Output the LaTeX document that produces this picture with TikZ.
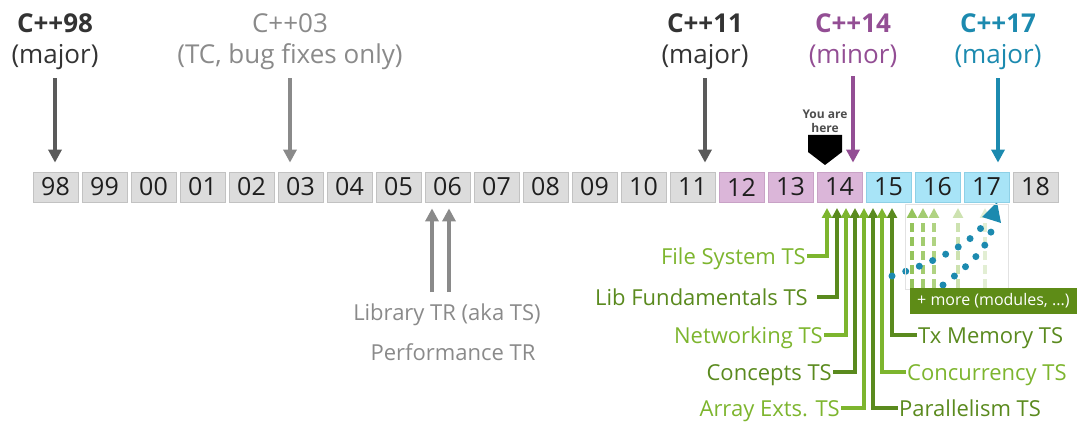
\documentclass[tikz,border=0pt]{standalone}
\usepackage{fontspec}
\setmainfont{Open Sans}
\usepackage{tikz}
\usetikzlibrary{arrows.meta}
\definecolor{boxgrey}{HTML}{DCDCDC}
\definecolor{boxgreyline}{HTML}{C2C2C2}
\definecolor{boxpink}{HTML}{DBB6D9}
\definecolor{boxpinkline}{HTML}{C8A2C6}
\definecolor{boxblue}{HTML}{A8E4F7}
\definecolor{boxblueline}{HTML}{8ED0E6}
\definecolor{yeartext}{HTML}{1E1E1E}
\definecolor{reldark}{HTML}{333333}
\definecolor{arrowdark}{HTML}{5A5A5A}
\definecolor{tcgrey}{HTML}{8A8A8A}
\definecolor{minorpurple}{HTML}{934E94}
\definecolor{majorteal}{HTML}{1C8AAF}
\definecolor{grnlight}{HTML}{7DB52E}
\definecolor{grndark}{HTML}{5A8A1E}
\definecolor{grnbox}{HTML}{5E8C17}
\definecolor{fut1}{HTML}{95C45C}
\definecolor{fut2}{HTML}{A3CC70}
\definecolor{fut3}{HTML}{B0D382}
\definecolor{fut4}{HTML}{CDE2B0}
\definecolor{fut5}{HTML}{E2EED3}
\definecolor{frameline}{HTML}{E2E2E2}
\definecolor{herecol}{HTML}{4D4D4D}
\newcommand{\relfont}{\fontsize{26}{30}\selectfont}
\newcommand{\yearfont}{\fontsize{25}{28}\selectfont}
\newcommand{\tsfont}{\fontsize{22}{26}\selectfont}
\newcommand{\morefont}{\fontsize{16}{19}\selectfont}
\newcommand{\herefont}{\fontsize{12}{14}\selectfont}
\pgfdeclarelayer{edgelayer}
\pgfdeclarelayer{nodelayer}
\pgfsetlayers{edgelayer,nodelayer,main}
\tikzstyle{year}=[rectangle,fill=boxgrey,draw=boxgreyline,line width=0.8,minimum width=45,minimum height=30,inner sep=0pt,font=\yearfont,text=yeartext]
\tikzstyle{minoryear}=[year,fill=boxpink,draw=boxpinkline]
\tikzstyle{majoryear}=[year,fill=boxblue,draw=boxblueline]
\tikzstyle{rel}=[anchor=base,font=\relfont\bfseries,inner sep=2pt]
\tikzstyle{relnote}=[anchor=base,font=\relfont,inner sep=2pt]
\tikzstyle{relarrow}=[->,>={Triangle[length=13pt,width=13pt]},line width=4.5,shorten <=6pt,shorten >=9pt]
\tikzstyle{trarrow}=[->,>={Triangle[length=13pt,width=13pt]},line width=4.5,draw=tcgrey,shorten >=6pt]
\tikzstyle{trnote}=[anchor=base,font=\tsfont,text=tcgrey,inner sep=1pt]
\tikzstyle{tslabel}=[font=\tsfont,text height=17pt,text depth=1pt,inner sep=1pt]
\tikzstyle{tsline}=[->,>={Triangle[length=10pt,width=10pt]},line width=3.5]
\tikzstyle{futarrow}=[->,>={Triangle[length=10pt,width=10pt]},line width=3.5,dash pattern=on 9pt off 5pt]
\tikzstyle{tealdots}=[draw=majorteal,line width=7,line cap=round,dash pattern=on 0pt off 14.5pt]
\tikzstyle{frame}=[rectangle,draw=frameline,line width=1,minimum width=103,minimum height=84,inner sep=0pt]
\tikzstyle{morebox}=[rectangle,fill=grnbox,text=white,font=\morefont,inner xsep=7pt,minimum height=26,anchor=west]
\tikzstyle{herenote}=[align=center,font=\herefont\bfseries,text=herecol,inner sep=0pt]

\begin{document}
\begin{tikzpicture}[x=1pt,y=-1pt]
	\useasboundingbox (0,0) rectangle (1080,425);
	\begin{pgfonlayer}{nodelayer}
		% years
		\node [style=year] (y98) at (55.5,187) {98};
		\node [style=year] (y99) at (104.5,187) {99};
		\node [style=year] (y00) at (153.5,187) {00};
		\node [style=year] (y01) at (202.5,187) {01};
		\node [style=year] (y02) at (251.5,187) {02};
		\node [style=year] (y03) at (300.5,187) {03};
		\node [style=year] (y04) at (349.5,187) {04};
		\node [style=year] (y05) at (398.5,187) {05};
		\node [style=year] (y06) at (447.5,187) {06};
		\node [style=year] (y07) at (496.5,187) {07};
		\node [style=year] (y08) at (545.5,187) {08};
		\node [style=year] (y09) at (594.5,187) {09};
		\node [style=year] (y10) at (643.5,187) {10};
		\node [style=year] (y11) at (692.5,187) {11};
		\node [style=minoryear] (y12) at (741.5,187) {12};
		\node [style=minoryear] (y13) at (790.5,187) {13};
		\node [style=minoryear] (y14) at (839.5,187) {14};
		\node [style=majoryear] (y15) at (888.5,187) {15};
		\node [style=majoryear] (y16) at (937.5,187) {16};
		\node [style=majoryear] (y17) at (986.5,187) {17};
		\node [style=year] (y18) at (1035.5,187) {18};

		% releases
		\node [style=rel, text=reldark] (c98) at (55,33) {C++98};
		\node [style=relnote, text=reldark] (c98n) at (55,64) {(major)};
		\node [style=relnote, text=tcgrey] (c03) at (290,33) {C++03};
		\node [style=relnote, text=tcgrey] (c03n) at (290,64) {(TC, bug fixes only)};
		\node [style=rel, text=reldark] (c11) at (705,33) {C++11};
		\node [style=relnote, text=reldark] (c11n) at (705,64) {(major)};
		\node [style=rel, text=minorpurple] (c14) at (853,33) {C++14};
		\node [style=relnote, text=minorpurple] (c14n) at (853,64) {(minor)};
		\node [style=rel, text=majorteal] (c17) at (998,33) {C++17};
		\node [style=relnote, text=majorteal] (c17n) at (998,64) {(major)};

		\node [style=herenote] (here) at (825,121) {You are\\here};

		% technical reports
		\node [style=trnote] (libtr) at (447,320) {Library TR (aka TS)};
		\node [style=trnote] (perftr) at (453,360) {Performance TR};
		\coordinate (lib1) at (432,292);
		\coordinate (lib2) at (449,292);

		% technical specifications
		\node [style=tslabel, text=grnlight, anchor=east] (fs) at (807,256) {File System TS};
		\node [style=tslabel, text=grndark, anchor=east] (lf) at (809,297) {Lib Fundamentals TS};
		\node [style=tslabel, text=grnlight, anchor=east] (nw) at (824,335) {Networking TS};
		\node [style=tslabel, text=grndark, anchor=east] (co) at (833,372) {Concepts TS};
		\node [style=tslabel, text=grnlight, anchor=east] (ae) at (841,408) {Array Exts. TS};
		\node [style=tslabel, text=grndark, anchor=west] (tx) at (917,335) {Tx Memory TS};
		\node [style=tslabel, text=grnlight, anchor=west] (cc) at (906,372) {Concurrency TS};
		\node [style=tslabel, text=grndark, anchor=west] (pa) at (898,408) {Parallelism TS};
		\coordinate (t1) at (827,208);
		\coordinate (t2) at (837,208);
		\coordinate (t3) at (846,208);
		\coordinate (t4) at (855,208);
		\coordinate (t5) at (864,208);
		\coordinate (t6) at (873,208);
		\coordinate (t7) at (882,208);
		\coordinate (t8) at (892,208);

		% still to come
		\node [style=frame] (fut) at (957,247) {};
		\node [style=morebox] (more) at (910,301) {+ more (modules, ...)};
		\coordinate (f1) at (912,208);
		\coordinate (f2) at (923,208);
		\coordinate (f3) at (934,208);
		\coordinate (f4) at (958,208);
		\coordinate (f5) at (985,208);
		\coordinate (d1) at (892,276);
		\coordinate (d2) at (943,285);
	\end{pgfonlayer}
	\begin{pgfonlayer}{edgelayer}
		\draw [style=relarrow, draw=arrowdark] (c98n.south) to (c98n.south |- y98.north);
		\draw [style=relarrow, draw=tcgrey] (c03n.south) to (c03n.south |- y03.north);
		\draw [style=relarrow, draw=arrowdark] (c11n.south) to (c11n.south |- y11.north);
		\draw [style=relarrow, draw=minorpurple] (c14n.south) to (c14n.south |- y14.north);
		\draw [style=relarrow, draw=majorteal] (c17n.south) to (c17n.south |- y17.north);
		\fill [black] (808,135) -- (842,135) -- (842,152) -- (825,165) -- (808,152) -- cycle;

		\draw [style=trarrow] (lib1) to (lib1 |- y06.south);
		\draw [style=trarrow] (lib2) to (lib2 |- y06.south);

		\draw [style=tsline, draw=grnlight] (fs.east) -| (t1);
		\draw [style=tsline, draw=grndark, shorten <=8pt] (lf.east) -| (t2);
		\draw [style=tsline, draw=grnlight] (nw.east) -| (t3);
		\draw [style=tsline, draw=grndark] (co.east) -| (t4);
		\draw [style=tsline, draw=grnlight] (ae.east) -| (t5);
		\draw [style=tsline, draw=grndark] (pa.west) -| (t6);
		\draw [style=tsline, draw=grnlight] (cc.west) -| (t7);
		\draw [style=tsline, draw=grndark] (tx.west) -| (t8);

		\draw [style=futarrow, draw=fut1] (f1 |- more.north) to (f1);
		\draw [style=futarrow, draw=fut2] (f2 |- more.north) to (f2);
		\draw [style=futarrow, draw=fut3] (f3 |- more.north) to (f3);
		\draw [style=futarrow, draw=fut4] (f4 |- more.north) to (f4);
		\draw [style=futarrow, draw=fut5] (f5 |- more.north) to (f5);

		\draw [style=tealdots] (d1) .. controls (935,262) and (966,246) .. (981,228);
		\draw [style=tealdots] (d2) .. controls (965,268) and (985,252) .. (991,232);
		\fill [majorteal] (997,202) -- (1001,223) -- (982,217) -- cycle;
	\end{pgfonlayer}
\end{tikzpicture}
\end{document}
